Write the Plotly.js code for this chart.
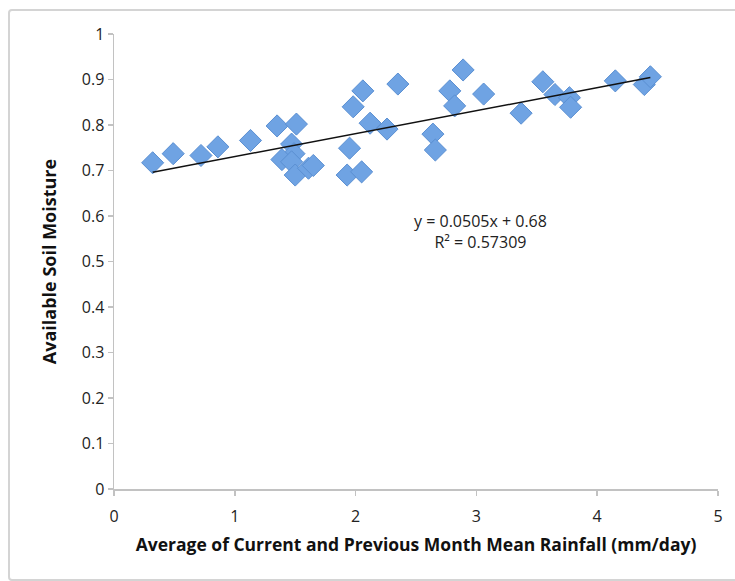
<!DOCTYPE html>
<html>
<head>
<meta charset="utf-8">
<script src="https://cdn.plot.ly/plotly-3.0.1.min.js"></script>
<style>
  html, body { margin: 0; padding: 0; background: #fff; overflow: hidden; }
  #wrap { position: relative; width: 735px; height: 581px; overflow: hidden; }
  #chart { position: absolute; left: 0; top: 0; width: 735px; height: 581px; }
  #frame { position: absolute; left: 8px; top: 9px; width: 728px; height: 568px;
           border: 2px solid #d4d4d4; border-radius: 4px; pointer-events: none; }
</style>
</head>
<body>
<div id="wrap">
  <div id="chart"></div>
  <div id="frame"></div>
</div>
<script>
// Rainfall (mm/day) and available soil moisture
const rainfall = [0.32, 0.49, 0.72, 0.86, 1.13, 1.35, 1.51, 1.47, 1.49, 1.39, 1.47, 1.50,
                  1.61, 1.65, 1.95, 1.98, 2.06, 2.12, 2.26, 2.35, 1.93, 2.05, 2.64, 2.66,
                  2.78, 2.82, 2.89, 3.06, 3.37, 3.55, 3.65, 3.77, 3.78, 4.15, 4.39, 4.44];
const soilMoisture = [0.717, 0.737, 0.733, 0.752, 0.766, 0.798, 0.802, 0.758, 0.737, 0.724, 0.719, 0.690,
                      0.705, 0.711, 0.749, 0.840, 0.875, 0.804, 0.791, 0.890, 0.690, 0.697, 0.780, 0.745,
                      0.875, 0.842, 0.921, 0.868, 0.826, 0.895, 0.867, 0.860, 0.839, 0.897, 0.889, 0.906];

// Linear trendline as reported on the chart
const slope = 0.0505;
const intercept = 0.68;
const rSquared = "0.57309";

const xTicks = [0, 1, 2, 3, 4, 5];
const yTicks = [0, 0.1, 0.2, 0.3, 0.4, 0.5, 0.6, 0.7, 0.8, 0.9, 1];
const yTickText = ["0", "0.1", "0.2", "0.3", "0.4", "0.5", "0.6", "0.7", "0.8", "0.9", "1"];

const xMin = Math.min(...rainfall);
const xMax = Math.max(...rainfall);
const trendX = [xMin, xMax];
const trendY = trendX.map(x => slope * x + intercept);

const font = "'Open Sans', 'DejaVu Sans', sans-serif";

const traces = [
  {
    x: rainfall, y: soilMoisture, type: 'scatter', mode: 'markers',
    marker: { symbol: 'diamond', size: 17, color: '#6fa3e3',
              line: { color: '#5a8fd2', width: 1 } },
    hoverinfo: 'skip'
  },
  {
    x: trendX, y: trendY, type: 'scatter', mode: 'lines',
    line: { color: '#111111', width: 1.5 },
    hoverinfo: 'skip'
  }
];

const axisCommon = {
  showgrid: false, zeroline: false, showline: true,
  linecolor: '#c2c2c2', linewidth: 1.5,
  ticks: 'outside', ticklen: 5, tickwidth: 1.5, tickcolor: '#c2c2c2',
  tickfont: { family: font, size: 16, color: '#222' }
};

const layout = {
  width: 735, height: 581,
  margin: { l: 114, r: 17, t: 34, b: 92 },
  paper_bgcolor: '#ffffff', plot_bgcolor: '#ffffff',
  showlegend: false,
  xaxis: Object.assign({}, axisCommon, {
    range: [0, 5], tickvals: xTicks, ticktext: xTicks.map(String),
    ticklabelstandoff: 7,
    title: { text: 'Average of Current and Previous Month Mean Rainfall (mm/day)',
             font: { family: font, size: 17.5, color: '#111', weight: 'bold' }, standoff: 13 }
  }),
  yaxis: Object.assign({}, axisCommon, {
    range: [0, 1], tickvals: yTicks, ticktext: yTickText,
    title: { text: 'Available Soil Moisture',
             font: { family: font, size: 18, color: '#111', weight: 'bold' }, standoff: 20 }
  }),
  annotations: [{
    x: 3.03, y: 0.565, xref: 'x', yref: 'y', showarrow: false,
    text: 'y = ' + slope + 'x + ' + intercept + '<br>R² = ' + rSquared,
    font: { family: font, size: 16, color: '#222' }, align: 'center'
  }]
};

Plotly.newPlot('chart', traces, layout, { staticPlot: true, displayModeBar: false });
</script>
</body>
</html>
